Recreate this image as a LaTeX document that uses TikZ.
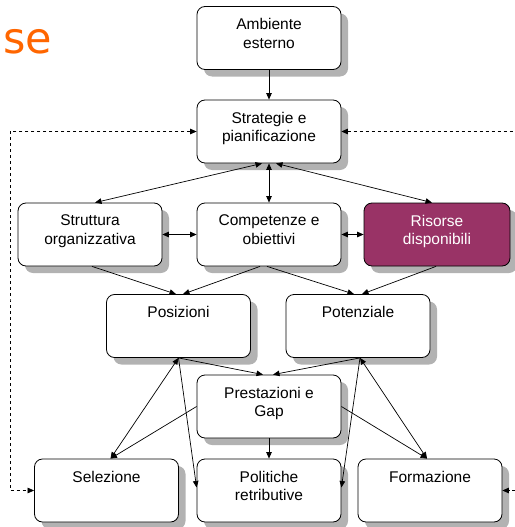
\documentclass[tikz,border=0pt]{standalone}
\usepackage{fontspec}
\setmainfont{Liberation Sans}
\newfontfamily\titlefont{DejaVu Sans}
\usetikzlibrary{arrows.meta,shadows}
\definecolor{plum}{HTML}{993366}
\definecolor{titleorange}{HTML}{FF6600}
\newcommand{\blktext}[1]{\parbox[c][39pt][t]{136pt}{\centering\fontsize{15.5}{18.5}\selectfont #1}}
\tikzset{
  blk/.style={draw,rounded corners=8pt,fill=white,minimum width=144pt,minimum height=63pt,
    inner sep=0pt,line width=0.8pt,
    drop shadow={shadow xshift=7pt,shadow yshift=-7pt,fill=black!30,opacity=1}},
  arr/.style={line width=0.7pt,-{Triangle[length=6.5pt,width=5.5pt]}},
  dbl/.style={{Triangle[length=6.5pt,width=5.5pt]}-{Triangle[length=6.5pt,width=5.5pt]}},
  fb/.style={dashed,line width=0.7pt}
}
\begin{document}
\begin{tikzpicture}[x=1pt,y=-1pt]
      \useasboundingbox (0,0) rectangle (514,527);
      \node[anchor=base west,inner sep=0pt,text=titleorange,
        font=\titlefont\fontsize{43}{43}\selectfont] (title) at (3,53) {se};
      \node[blk] (amb) at (269,38) {\blktext{Ambiente\\esterno}};
      \node[blk] (strat) at (269,131.5) {\blktext{Strategie e\\pianificazione}};
      \node[blk] (strutt) at (90,234.5) {\blktext{Struttura\\organizzativa}};
      \node[blk] (comp) at (269,234.5) {\blktext{Competenze e\\obiettivi}};
      \node[blk,fill=plum,text=white,minimum width=146pt] (ris) at (437,234.5) {\blktext{Risorse\\disponibili}};
      \node[blk] (pos) at (178.5,326) {\blktext{Posizioni}};
      \node[blk] (pot) at (358,326) {\blktext{Potenziale}};
      \node[blk] (prest) at (269,406.5) {\blktext{Prestazioni e\\Gap}};
      \node[blk] (sel) at (106.5,490.5) {\blktext{Selezione}};
      \node[blk] (pol) at (269,490.5) {\blktext{Politiche\\retributive}};
      \node[blk] (form) at (430,490.5) {\blktext{Formazione}};
      \coordinate (fbl) at (10,300);
      \coordinate (fbr) at (522,300);
      \begin{scope}[arr]
        \draw (amb) -- (strat);
        \draw[dbl] (strat) -- (comp);
        \draw[dbl] ([xshift=-7pt]strat.south) -- ([xshift=5pt]strutt.north);
        \draw[dbl] ([xshift=7pt]strat.south) -- ([xshift=-5pt]ris.north);
        \draw[dbl] (strutt) -- (comp);
        \draw[dbl] (comp) -- (ris);
        \draw ([xshift=2pt]strutt.south) -- ([xshift=-2.5pt]pos.north);
        \draw ([xshift=-9pt]comp.south) -- ([xshift=4.5pt]pos.north);
        \draw ([xshift=-2pt]comp.south) -- ([xshift=-4pt]pot.north);
        \draw ([xshift=-1pt]ris.south) -- ([xshift=4pt]pot.north);
        \draw (pos.south) -- ([xshift=-6pt]prest.north);
        \draw ([xshift=2pt]pot.south) -- ([xshift=4pt]prest.north);
        \draw[dbl] (pos.south) -- ([xshift=4pt]sel.north);
        \draw (pos.south) -- ([yshift=3pt]pol.west);
        \draw (prest.west) -- ([xshift=4pt]sel.north);
        \draw ([xshift=2pt]pot.south) -- ([yshift=3pt]pol.east);
        \draw[dbl] ([xshift=2pt]pot.south) -- ([xshift=-3pt]form.north);
        \draw (prest.east) -- ([xshift=-3pt]form.north);
        \draw (prest) -- (pol);
        \draw[fb,dbl] (strat.west) -| (fbl) |- (sel.west);
        \draw[fb,dbl] (strat.east) -| (fbr) |- (form.east);
      \end{scope}
    \end{tikzpicture}
\end{document}
